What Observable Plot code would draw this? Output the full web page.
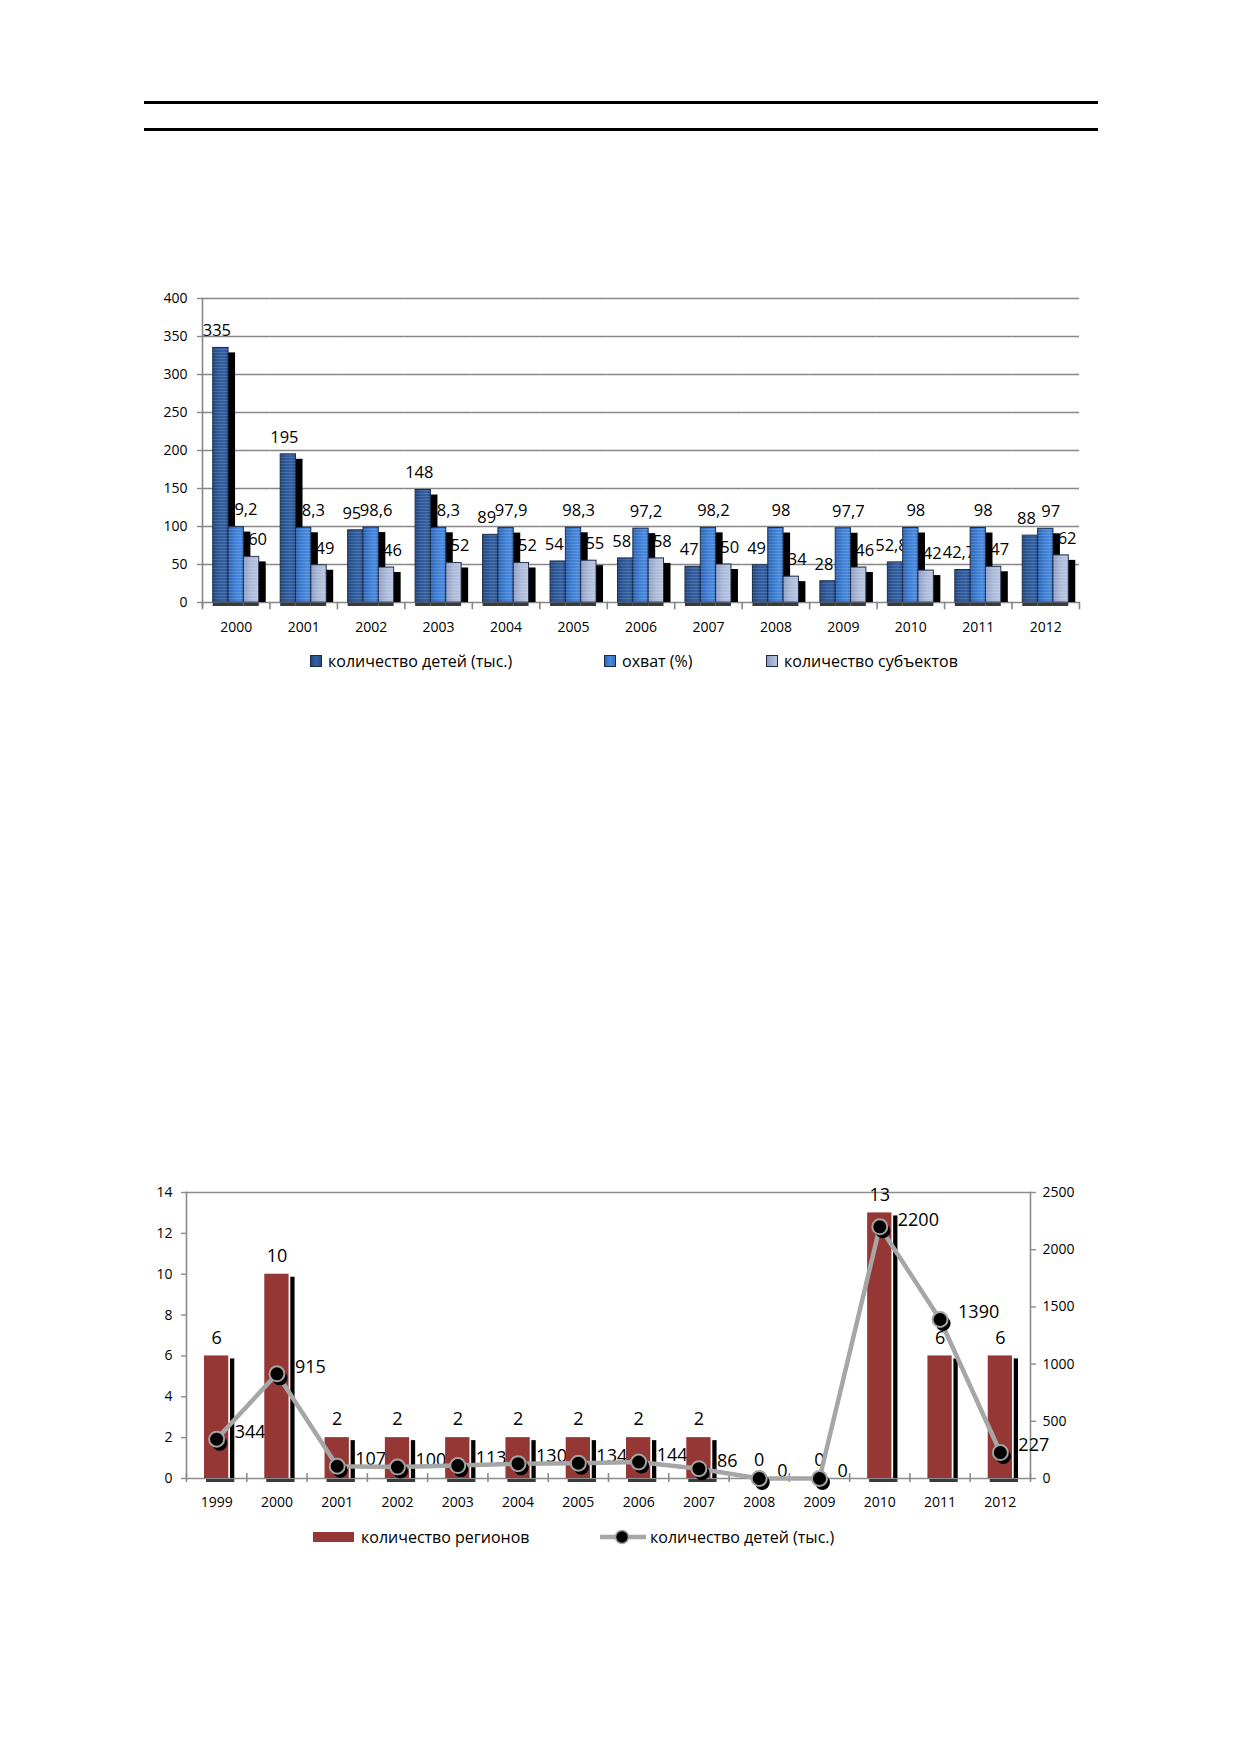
<!DOCTYPE html>
<html><head><meta charset="utf-8">
<script src="https://cdn.jsdelivr.net/npm/d3@7"></script>
<script src="https://cdn.jsdelivr.net/npm/@observablehq/plot@0.6"></script>
<style>
html,body{margin:0;padding:0;background:#fff;}
#page{position:relative;width:1239px;height:1754px;background:#fff;overflow:hidden;font-family:'Open Sans',sans-serif;color:#000;}
.hr{position:absolute;left:144px;width:954px;height:3px;background:#000;}
.chart{position:absolute;left:0;width:1239px;}
.lg{position:absolute;height:20px;display:flex;align-items:center;font-size:16px;white-space:nowrap;}
.sw{display:inline-block;width:10px;height:10px;border:1.5px solid #1b2a47;margin-right:6px;box-sizing:content-box;}
</style></head>
<body><div id="page">
<div class="hr" style="top:101px"></div>
<div class="hr" style="top:128px"></div>
<div id="c1" class="chart" style="top:250px"></div>
<div id="c2" class="chart" style="top:1150px"></div>
<div id="lg1"></div>
<div id="lg2"></div>
</div>
<script>
// ---------- Chart 1 data ----------
const years1 = [2000, 2001, 2002, 2003, 2004, 2005, 2006, 2007, 2008, 2009, 2010, 2011, 2012];
const seriesNames1 = ["количество детей (тыс.)", "охват (%)", "количество субъектов"];
const children1 = [335, 195, 95, 148, 89, 54, 58, 47, 49, 28, 52.8, 42.7, 88];
const coverage1 = [99.2, 98.3, 98.6, 98.3, 97.9, 98.3, 97.2, 98.2, 98, 97.7, 98, 98, 97];
const subjects1 = [60, 49, 46, 52, 52, 55, 58, 50, 34, 46, 42, 47, 62];
const yTicks1 = [0, 50, 100, 150, 200, 250, 300, 350, 400];

// ---------- Chart 2 data ----------
const years2 = [1999, 2000, 2001, 2002, 2003, 2004, 2005, 2006, 2007, 2008, 2009, 2010, 2011, 2012];
const seriesNames2 = ["количество регионов", "количество детей (тыс.)"];
const regions2 = [6, 10, 2, 2, 2, 2, 2, 2, 2, 0, 0, 13, 6, 6];
const kids2 = [344, 915, 107, 100, 113, 130, 134, 144, 86, 0, 0, 2200, 1390, 227];
const leftTicks2 = [0, 2, 4, 6, 8, 10, 12, 14];
const rightTicks2 = [0, 500, 1000, 1500, 2000, 2500];

const W = 1239;
const FONT = "'Open Sans', sans-serif";
const fmt = v => String(v).replace(".", ",");
const yearFmt = d => String(d);

// ---------- Chart 1 ----------
const series1 = [children1, coverage1, subjects1];
const rows1 = [];
years1.forEach((yr, i) => series1.forEach((arr, s) => rows1.push({year: yr, series: seriesNames1[s], s, value: arr[i]})));
const bySeries = s => rows1.filter(d => d.s === s);
const grid1 = "#878787";
const fills1 = ["url(#c1g0)", "url(#c1g1)", "url(#c1g2)"];
const labelDx1 = [-4, 5, 6];

const chart1 = Plot.plot({
  width: W, height: 400,
  marginLeft: 202, marginRight: 160, marginTop: 48, marginBottom: 48,
  style: {fontFamily: FONT, fontSize: "14px", color: "#000", background: "transparent", overflow: "visible"},
  fx: {domain: years1, paddingInner: 0, paddingOuter: 0, round: false, axis: null, label: null},
  x: {domain: seriesNames1, paddingInner: 0, paddingOuter: 0.7, round: false, axis: null, label: null},
  y: {domain: [0, 400], axis: null, label: null},
  marks: [
    Plot.gridY(yTicks1, {stroke: grid1, strokeOpacity: 1, strokeWidth: 1.6}),
    Plot.axisY(yTicks1, {anchor: "left", tickSize: 5, tickPadding: 10, stroke: grid1, strokeWidth: 1.4, fontSize: 14, label: null}),
    Plot.frame({anchor: "left", facetAnchor: "left", stroke: grid1, strokeWidth: 1.6, insetBottom: -4}),
    Plot.frame({anchor: "left", stroke: grid1, strokeWidth: 1.6, insetTop: 304, insetBottom: -6}),
    Plot.frame({anchor: "right", facetAnchor: "right", stroke: grid1, strokeWidth: 1.6, insetTop: 304, insetBottom: -6}),
    Plot.axisFx({anchor: "bottom", tickSize: 0, tickPadding: 20, fontSize: 14, label: null, tickFormat: yearFmt}),
    ...[0, 1, 2].map(s => Plot.text(bySeries(s), {fx: "year", x: "series", y: "value", text: d => fmt(d.value), dy: -17, dx: labelDx1[s], fontSize: 16.5, fill: "#000"})),
    Plot.tickY(rows1, {fx: "year", x: "series", y: 0, stroke: "#3a3a3a", strokeWidth: 3, dy: 2}),
    Plot.barY(rows1, {fx: "year", x: "series", y: "value", fill: "#000", dx: 7, dy: 5, insetBottom: 5}),
    ...[0, 1, 2].map(s => Plot.barY(bySeries(s), {fx: "year", x: "series", y: "value", fill: fills1[s], stroke: "#1b2a47", strokeWidth: 1})),
    Plot.barY(rows1, {fx: "year", x: "series", y: "value", fill: "url(#stripes)"})
  ]
});
chart1.insertAdjacentHTML("afterbegin", `<defs>
<linearGradient id="c1g0" x1="0" x2="1" y1="0" y2="0"><stop offset="0" stop-color="#22467d"/><stop offset="0.4" stop-color="#2e5a9a"/><stop offset="0.75" stop-color="#3461a3"/><stop offset="1" stop-color="#264d88"/></linearGradient>
<linearGradient id="c1g1" x1="0" x2="1" y1="0" y2="0"><stop offset="0" stop-color="#2e64b2"/><stop offset="0.45" stop-color="#3d7ed3"/><stop offset="0.8" stop-color="#4a8ade"/><stop offset="1" stop-color="#3a73c2"/></linearGradient>
<linearGradient id="c1g2" x1="0" x2="1" y1="0" y2="0"><stop offset="0" stop-color="#8b9dc4"/><stop offset="0.5" stop-color="#acbad9"/><stop offset="1" stop-color="#bac6e0"/></linearGradient>
<pattern id="stripes" patternUnits="userSpaceOnUse" width="6" height="3"><rect width="6" height="1" fill="#ffffff" fill-opacity="0.13"/></pattern>
</defs>`);
document.getElementById("c1").appendChild(chart1);

// legend 1
const lg1 = document.getElementById("lg1");
const swatchCss1 = [
  "linear-gradient(90deg,#22467d,#3461a3,#264d88)",
  "linear-gradient(90deg,#2e64b2,#4a8ade,#3a73c2)",
  "linear-gradient(90deg,#8b9dc4,#bac6e0)"
];
const lgLeft1 = [310, 604, 766];
seriesNames1.forEach((name, i) => {
  const d = document.createElement("div");
  d.className = "lg";
  d.style.left = lgLeft1[i] + "px";
  d.style.top = "651px";
  d.innerHTML = `<span class="sw" style="background:${swatchCss1[i]}"></span><span>${name}</span>`;
  lg1.appendChild(d);
});

// ---------- Chart 2 ----------
const leftMax = 14, rightMax = 2500;
const toLeft = v => v * leftMax / rightMax;
const rows2 = years2.map((yr, i) => ({year: yr, regions: regions2[i], kids: kids2[i]}));
const grid2 = "#8c8c8c";
const mL2 = 186, mR2 = 209;
const step2 = (W - mL2 - mR2) / years2.length;
const red = "#953735";

const chart2 = Plot.plot({
  width: W, height: 380,
  marginLeft: mL2, marginRight: mR2, marginTop: 42, marginBottom: 52,
  style: {fontFamily: FONT, fontSize: "14px", color: "#000", background: "transparent", overflow: "visible"},
  x: {domain: years2, padding: 0, round: false, axis: null, label: null},
  y: {domain: [0, leftMax], axis: null, label: null},
  marks: [
    Plot.frame({anchor: "top", stroke: grid2, strokeWidth: 1.6}),
    Plot.frame({anchor: "left", stroke: grid2, strokeWidth: 1.6}),
    Plot.frame({anchor: "right", stroke: grid2, strokeWidth: 1.6}),
    Plot.frame({anchor: "bottom", stroke: grid2, strokeWidth: 1.6}),
    Plot.axisY(leftTicks2, {anchor: "left", tickSize: 5, tickPadding: 9, stroke: grid2, strokeWidth: 1.4, fontSize: 14, label: null}),
    Plot.axisY(rightTicks2.map(toLeft), {anchor: "right", tickSize: 5, tickPadding: 7, stroke: grid2, strokeWidth: 1.4, fontSize: 14, label: null, tickFormat: d => String(Math.round(d * rightMax / leftMax))}),
    Plot.axisX({anchor: "bottom", tickSize: 0, tickPadding: 19, fontSize: 14, label: null, tickFormat: yearFmt}),
    Plot.ruleX(years2, {x: d => d, dx: -step2 / 2, y1: 0, y2: 0, insetTop: -5, insetBottom: -4, stroke: grid2, strokeWidth: 1.6}),
    Plot.ruleX(years2.slice(-1), {x: d => d, dx: step2 / 2, y1: 0, y2: 0, insetTop: -5, insetBottom: -4, stroke: grid2, strokeWidth: 1.6}),
    Plot.text(rows2, {x: "year", y: d => toLeft(d.kids), text: d => String(d.kids), dx: 18, dy: -7, textAnchor: "start", fontSize: 18, fill: "#000"}),
    Plot.tickY(rows2.filter(d => d.regions > 0), {x: "year", y: 0, stroke: "#3a3a3a", strokeWidth: 3, dy: 2, insetLeft: 20, insetRight: 12}),
    Plot.barY(rows2, {x: "year", y: "regions", fill: red, insetLeft: 18, insetRight: 18}),
    Plot.barY(rows2, {x: "year", y: "regions", fill: "#000", insetLeft: 44, insetRight: 12, insetTop: 3}),
    Plot.text(rows2, {x: "year", y: "regions", text: d => String(d.regions), dy: -18, fontSize: 18, fill: "#000"}),
    Plot.line(rows2, {x: "year", y: d => toLeft(d.kids), stroke: "#a6a6a6", strokeWidth: 4.5, strokeLinejoin: "round"}),
    Plot.dot(rows2, {x: "year", y: d => toLeft(d.kids), r: 7.5, fill: "#000", dx: 3, dy: 4}),
    Plot.dot(rows2, {x: "year", y: d => toLeft(d.kids), r: 7.5, fill: "#000", stroke: "#a3a3a3", strokeWidth: 2})
  ]
});
document.getElementById("c2").appendChild(chart2);

// legend 2
const lg2 = document.getElementById("lg2");
lg2.innerHTML = `
<div class="lg" style="left:313px;top:1527px"><span style="display:inline-block;width:41px;height:10px;background:${red};margin-right:7px"></span><span>${seriesNames2[0]}</span></div>
<div class="lg" style="left:600px;top:1527px"><svg width="46" height="20" style="margin-right:4px"><line x1="0" x2="46" y1="10" y2="10" stroke="#a6a6a6" stroke-width="4.5"/><circle cx="22" cy="10" r="6.5" fill="#000" stroke="#a3a3a3" stroke-width="1.5"/></svg><span>${seriesNames2[1]}</span></div>`;
</script>
</body></html>
